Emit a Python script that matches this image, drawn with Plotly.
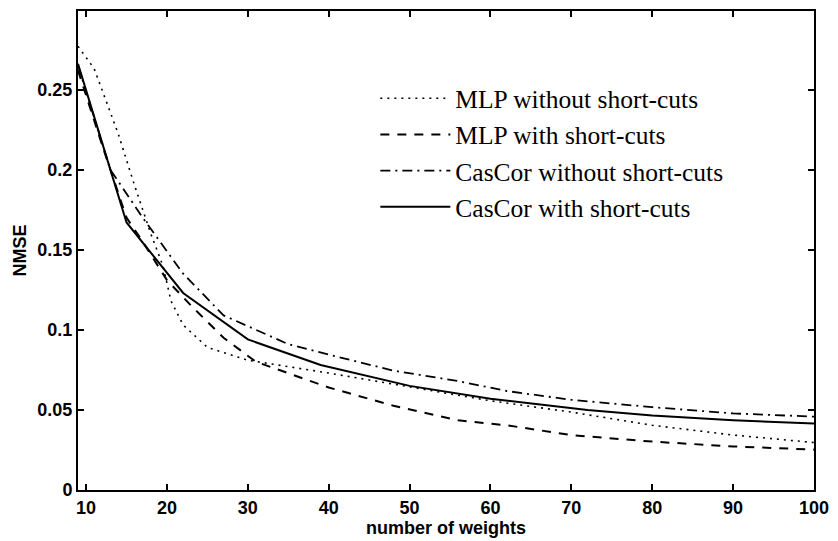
import plotly.graph_objects as go

# ---- data ----
mlp_no_x = [9, 11, 14, 16, 18, 19.5, 20.5, 22, 25, 30, 40, 48, 56, 60, 70, 80, 90, 100]
mlp_no_y = [0.277, 0.263, 0.222, 0.19, 0.16, 0.14, 0.118, 0.103, 0.089, 0.081, 0.073,
            0.066, 0.0594, 0.0557, 0.0486, 0.0404, 0.0343, 0.0296]

mlp_sc_x = [9, 12, 15, 17, 20, 23, 27, 31, 40, 48, 56, 62, 70, 80, 90, 100]
mlp_sc_y = [0.262, 0.215, 0.170, 0.155, 0.131, 0.115, 0.095, 0.080, 0.064, 0.0526,
            0.0435, 0.0404, 0.0343, 0.0302, 0.0272, 0.0252]

cc_no_x = [9, 13, 17, 22, 27, 35, 42, 48, 56, 62, 70, 80, 90, 100]
cc_no_y = [0.265, 0.200, 0.170, 0.135, 0.109, 0.091, 0.082, 0.0745, 0.068, 0.0618,
           0.0563, 0.0517, 0.0478, 0.0458]

cc_sc_x = [9, 15, 22, 30, 39, 50, 60, 72, 80, 90, 100]
cc_sc_y = [0.266, 0.167, 0.123, 0.094, 0.078, 0.065, 0.057, 0.050, 0.0465, 0.0435, 0.0415]

series_names = ["MLP without short-cuts", "MLP with short-cuts",
                "CasCor without short-cuts", "CasCor with short-cuts"]

x_ticks = [10, 20, 30, 40, 50, 60, 70, 80, 90, 100]
y_ticks = [0, 0.05, 0.1, 0.15, 0.2, 0.25]
y_ticktext = ["0", "0.05", "0.1", "0.15", "0.2", "0.25"]

# ---- figure ----
styles = [
    dict(width=1.6, dash="2px,5px"),
    dict(width=2, dash="9px,8px"),
    dict(width=1.8, dash="10px,5px,2px,5px"),
    dict(width=2, dash="solid"),
]
xs = [mlp_no_x, mlp_sc_x, cc_no_x, cc_sc_x]
ys = [mlp_no_y, mlp_sc_y, cc_no_y, cc_sc_y]

fig = go.Figure()
for i in range(4):
    fig.add_trace(go.Scatter(
        x=xs[i], y=ys[i], mode="lines", name=series_names[i],
        legendgroup="g%d" % i,
        line=dict(color="black", **styles[i]),
    ))

axis_common = dict(
    showline=True, linecolor="black", linewidth=2, mirror="ticks",
    ticks="inside", ticklen=6, tickwidth=1.5, tickcolor="black",
    showgrid=False, zeroline=False,
    tickfont=dict(family="Liberation Sans", size=18, color="black", weight="bold"),
)

fig.update_layout(
    width=838, height=541,
    margin=dict(l=78, r=20, t=9, b=43),
    paper_bgcolor="white", plot_bgcolor="white",
    showlegend=True,
    legend=dict(
        x=0.404, y=0.866, xanchor="left", yanchor="top",
        bgcolor="rgba(0,0,0,0)", borderwidth=0,
        font=dict(family="Liberation Serif", size=25.5, color="black"),
        itemwidth=70, tracegroupgap=0, traceorder="grouped",
    ),
    xaxis=dict(range=[9, 100], tickvals=x_ticks,
               title=dict(text="<b>number of weights</b>", standoff=2,
                          font=dict(family="Liberation Sans", size=18, color="black")),
               **axis_common),
    yaxis=dict(range=[0, 0.299], tickvals=y_ticks, ticktext=y_ticktext,
               title=dict(text="<b>NMSE</b>", standoff=6,
                          font=dict(family="Liberation Sans", size=18, color="black")),
               **axis_common),
)

fig.write_html("out.html")
